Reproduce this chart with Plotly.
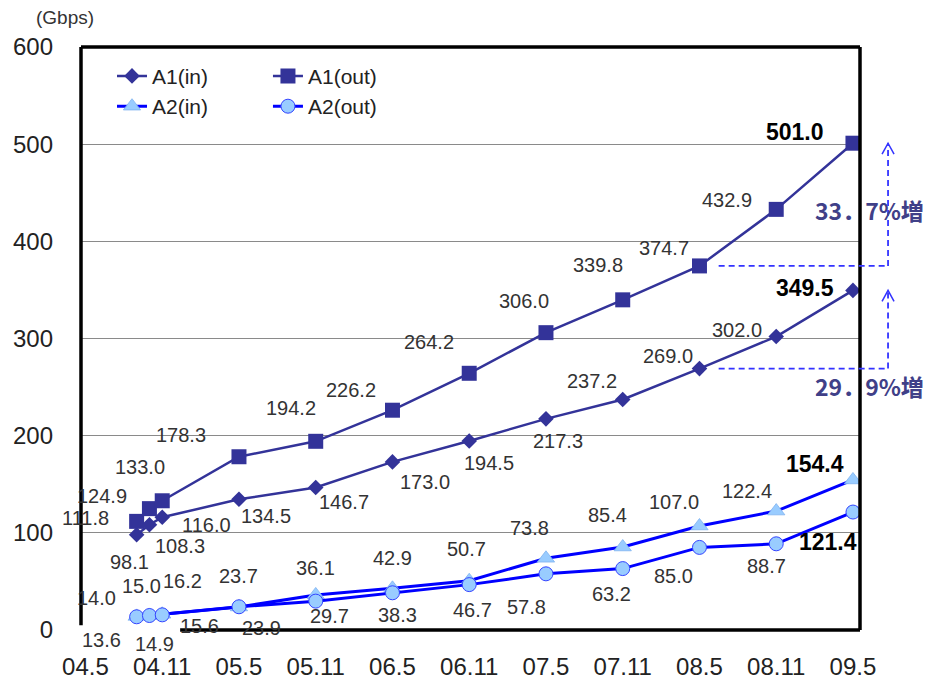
import plotly.graph_objects as go

# --- data -------------------------------------------------------------
periods = ["04.9", "04.10", "04.11", "05.5", "05.11", "06.5", "06.11",
           "07.5", "07.11", "08.5", "08.11", "09.5"]
a1_in = [98.1, 108.3, 116.0, 134.5, 146.7, 173.0, 194.5, 217.3, 237.2, 269.0, 302.0, 349.5]
a1_out = [111.8, 124.9, 133.0, 178.3, 194.2, 226.2, 264.2, 306.0, 339.8, 374.7, 432.9, 501.0]
a2_in = [14.0, 15.0, 16.2, 23.7, 36.1, 42.9, 50.7, 73.8, 85.4, 107.0, 122.4, 154.4]
a2_out = [13.6, 14.9, 15.6, 23.9, 29.7, 38.3, 46.7, 57.8, 63.2, 85.0, 88.7, 121.4]
tick_labels = ["04.5", "04.11", "05.5", "05.11", "06.5", "06.11",
               "07.5", "07.11", "08.5", "08.11", "09.5"]
unit_label = "(Gbps)"


def month_index(p):
    """Months elapsed since 2004/05 for a 'YY.M' period string."""
    yy, mm = p.split(".")
    return (int(yy) - 4) * 12 + int(mm) - 5


xs = [month_index(p) for p in periods]
tick_pos = [month_index(t) for t in tick_labels]

# --- styling ----------------------------------------------------------
FONT = "Liberation Sans, Arial, sans-serif"
NAVY = "#333399"
BLUE = "#0000FF"
LIGHT = "#99CCFF"
XR = [-0.35, 60.55]


def xpaper(m):
    return (m - XR[0]) / (XR[1] - XR[0])


# label offsets (dx, dy) in pixels from each point, dy positive = down
off_a1_out = [(-51, -3), (-47, -13), (-22, -34), (-58, -22), (-25, -33), (-41, -20),
              (-40, -31), (-22, -32), (-25, -35), (-35, -18), (-49, -9), (-58, -11)]
off_a1_in = [(-7, 27), (31, 21), (44, 8), (27, 17), (28, 15), (33, 20),
             (20, 22), (12, 22), (-31, -19), (-31, -13), (-39, -7), (-48, -2)]
off_a2_in = [(-40, -18), (-8, -29), (20, -33), (0, -31), (0, -27), (0, -30),
             (-3, -32), (-16, -30), (-15, -32), (-25, -24), (-29, -20), (-38, -16)]
off_a2_out = [(-35, 23), (5, 28), (37, 11), (23, 21), (14, 15), (5, 22),
              (3, 25), (-19, 33), (-11, 25), (-26, 29), (-10, 22), (-25, 30)]

fig = go.Figure()

fig.add_trace(go.Scatter(
    x=xs, y=a1_in, name="A1(in)", mode="lines+markers", legend="legend",
    line=dict(color=NAVY, width=2.5),
    marker=dict(symbol="diamond", size=12, color=NAVY)))
fig.add_trace(go.Scatter(
    x=xs, y=a1_out, name="A1(out)", mode="lines+markers", legend="legend2",
    line=dict(color=NAVY, width=2.5),
    marker=dict(symbol="square", size=15, color=NAVY)))
fig.add_trace(go.Scatter(
    x=xs, y=a2_in, name="A2(in)", mode="lines+markers", legend="legend",
    line=dict(color=BLUE, width=3),
    marker=dict(symbol="triangle-up", size=15, color=LIGHT,
                line=dict(color="#7fb2f0", width=0.8))))
fig.add_trace(go.Scatter(
    x=xs, y=a2_out, name="A2(out)", mode="lines+markers", legend="legend2",
    line=dict(color=BLUE, width=3),
    marker=dict(symbol="circle", size=14, color=LIGHT,
                line=dict(color="#3344FF", width=1))))

# value labels
annotations = []
for values, offsets in ((a1_out, off_a1_out), (a1_in, off_a1_in),
                        (a2_in, off_a2_in), (a2_out, off_a2_out)):
    last = len(values) - 1
    for i, (x, v) in enumerate(zip(xs, values)):
        dx, dy = offsets[i]
        bold = i == last
        annotations.append(dict(
            x=x, y=v, xref="x", yref="y", showarrow=False,
            text=f"<b>{v:.1f}</b>" if bold else f"{v:.1f}",
            xshift=dx, yshift=-dy, xanchor="center", yanchor="middle",
            font=dict(family=FONT, size=23 if bold else 20,
                      color="#000000" if bold else "#333333")))

# growth over the last year (08.5 -> 09.5)
i_prev = periods.index("08.5")
growth_out = (a1_out[-1] / a1_out[i_prev] - 1) * 100
growth_in = (a1_in[-1] / a1_in[i_prev] - 1) * 100
for g, ypos in ((growth_out, 0.720), (growth_in, 0.4185)):
    txt = "<b>" + f"{g:.1f}".replace(".", "．") + "%増</b>"
    annotations.append(dict(
        x=1.012, y=ypos, xref="paper", yref="paper", showarrow=False,
        text=txt, xanchor="center", yanchor="middle",
        font=dict(family="Noto Sans CJK JP, sans-serif", size=23, color="#404088")))

annotations.append(dict(
    x=-0.0205, y=1.0506, xref="paper", yref="paper", showarrow=False,
    text=unit_label, xanchor="center", yanchor="middle",
    font=dict(family=FONT, size=19, color="#333333")))

# frame and growth guides
shapes = []
frame = dict(color="#000000", width=3.5)
shapes.append(dict(type="line", xref="paper", yref="paper", x0=0, x1=0, y0=0.008, y1=1, line=frame))
shapes.append(dict(type="line", xref="paper", yref="paper", x0=0, x1=1, y0=1, y1=1, line=frame))
shapes.append(dict(type="line", xref="paper", yref="paper", x0=1, x1=1, y0=0, y1=1, line=frame))
shapes.append(dict(type="line", xref="x", yref="paper", x0=7.4, x1=XR[1], y0=0, y1=0, line=frame))

guide = dict(color="#3333FF", width=1.8, dash="6px,4px")
x_guide = 1.036
for base, top in ((a1_out[i_prev], a1_out[-1]), (a1_in[i_prev], a1_in[-1])):
    shapes.append(dict(type="line", xref="paper", yref="y",
                       x0=xpaper(xs[i_prev] + 1.5), x1=x_guide, y0=base, y1=base, line=guide))
    shapes.append(dict(type="line", xref="paper", yref="y",
                       x0=x_guide, x1=x_guide, y0=base, y1=top, line=guide))
    shapes.append(dict(type="path", xref="paper", yref="y",
                       xsizemode="pixel", ysizemode="pixel",
                       xanchor=x_guide, yanchor=top,
                       path="M-6,-11 L0,0 L6,-11",
                       line=dict(color="#3333FF", width=1.5)))

legend_font = dict(family=FONT, size=21, color="#222222")
fig.update_layout(
    width=925, height=681,
    margin=dict(l=81, r=65, t=47, b=51, autoexpand=False),
    paper_bgcolor="white", plot_bgcolor="white",
    font=dict(family=FONT, color="#222222"),
    showlegend=True,
    legend=dict(x=0.0398, y=0.985, xanchor="left", yanchor="top",
                bgcolor="rgba(0,0,0,0)", font=legend_font,
                itemwidth=30, tracegroupgap=0),
    legend2=dict(x=0.240, y=0.985, xanchor="left", yanchor="top",
                 bgcolor="rgba(0,0,0,0)", font=legend_font,
                 itemwidth=30, tracegroupgap=0),
    xaxis=dict(range=XR, tickmode="array", tickvals=tick_pos, ticktext=tick_labels,
               showgrid=False, zeroline=False, showline=False, ticks="",
               ticklabelstandoff=20, automargin=False,
               tickfont=dict(family=FONT, size=24, color="#222222")),
    yaxis=dict(range=[0, 600], dtick=100, showgrid=True, gridcolor="#8a8a8a", gridwidth=1,
               zeroline=False, showline=False, ticks="", ticklabelstandoff=27,
               automargin=False,
               tickfont=dict(family=FONT, size=24, color="#222222")),
    annotations=annotations,
    shapes=shapes,
)

fig.write_html("out.html")
